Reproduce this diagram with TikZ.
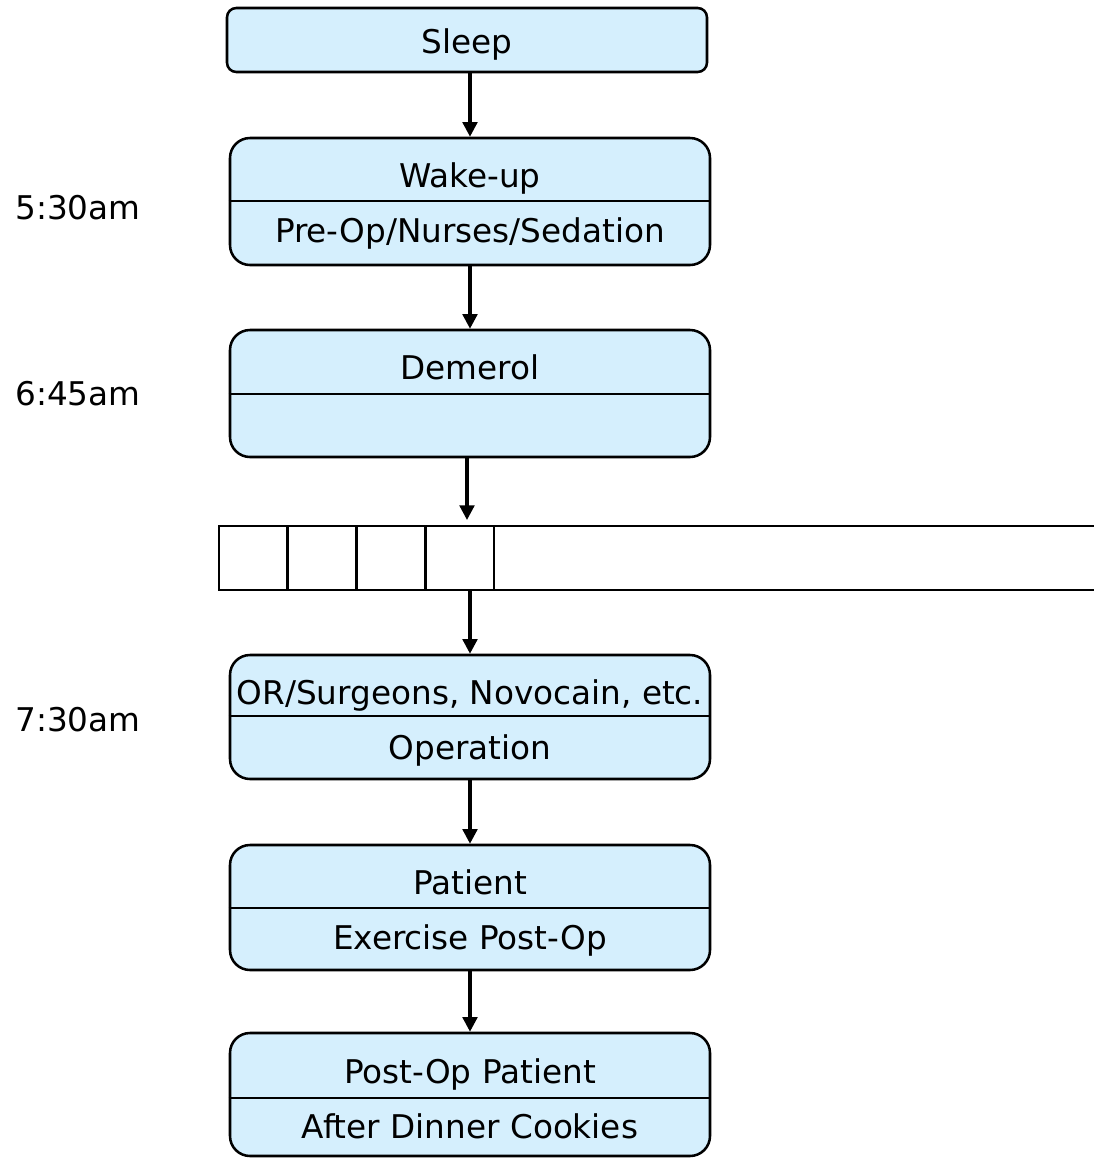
\documentclass[tikz,border=0pt]{standalone}
\usepackage{fontspec}
\setmainfont{DejaVu Sans}
\usetikzlibrary{arrows.meta}
\definecolor{stagefill}{RGB}{213,239,253}
\begin{document}
\begin{tikzpicture}[x=0.75pt,y=-0.75pt,
  stagebox/.style={draw, line width=1.9pt, fill=stagefill, rounded corners=15pt,
    minimum width=360pt, inner sep=0pt},
  cell/.style={draw, line width=1.9pt, minimum width=51.56pt, minimum height=48pt,
    inner sep=0pt, outer sep=0pt},
  lbl/.style={font=\fontsize{24.5}{28}\selectfont, inner sep=0pt, anchor=base},
  timelbl/.style={font=\fontsize{24.5}{28}\selectfont, inner sep=0pt, anchor=base west},
  flow/.style={line width=2.4pt, -{Triangle[length=11pt,width=11pt]}},
  divider/.style={line width=1.9pt}]
\useasboundingbox (0,0) rectangle (1094,1158);

% stages
\node[stagebox, rounded corners=7pt, minimum height=48pt] (sleep) at (467,40) {};
\node[lbl] (sleepT) at (467,53) {Sleep};

\node[stagebox, minimum height=95.25pt] (wake) at (470,201.5) {};
\draw[divider] (wake.west |- 0,201) -- (wake.east |- 0,201);
\node[lbl] (wakeA) at (470,187) {Wake-up};
\node[lbl] (wakeB) at (470,242) {Pre-Op/Nurses/Sedation};

\node[stagebox, minimum height=95.25pt] (demerol) at (470,393.5) {};
\draw[divider] (demerol.west |- 0,394) -- (demerol.east |- 0,394);
\node[lbl] (demerolA) at (470,379) {Demerol};

% queue
\node[cell] (q1) at (253.4,558) {};
\node[cell] (q2) at (322.1,558) {};
\node[cell] (q3) at (390.9,558) {};
\node[cell] (q4) at (459.6,558) {};
\coordinate (qendT) at (1100,526);
\coordinate (qendB) at (1100,590);
\draw[line width=1.9pt] (q4.north east) -- (qendT);
\draw[line width=1.9pt] (q4.south east) -- (qendB);

\node[stagebox, minimum height=93pt] (oper) at (470,717) {};
\draw[divider] (oper.west |- 0,716) -- (oper.east |- 0,716);
\node[lbl] (operA) at (470,704) {OR/Surgeons, Novocain, etc.};
\node[lbl] (operB) at (470,759) {Operation};

\node[stagebox, minimum height=93.75pt] (patient) at (470,907.5) {};
\draw[divider] (patient.west |- 0,908) -- (patient.east |- 0,908);
\node[lbl] (patientA) at (470,894) {Patient};
\node[lbl] (patientB) at (470,949) {Exercise Post-Op};

\node[stagebox, minimum height=92.25pt] (postop) at (470,1094.5) {};
\draw[divider] (postop.west |- 0,1098) -- (postop.east |- 0,1098);
\node[lbl] (postopA) at (470,1083) {Post-Op Patient};
\node[lbl] (postopB) at (470,1138) {After Dinner Cookies};

% times
\node[timelbl] (t1) at (15,219) {5:30am};
\node[timelbl] (t2) at (15,405) {6:45am};
\node[timelbl] (t3) at (15,731) {7:30am};

% connectors
\draw[flow] (wake.north |- sleep.south) -- (wake.north);
\draw[flow] (wake.south) -- (demerol.north);
\draw[flow] ([xshift=-2.25pt]demerol.south) -- ([xshift=-2.25pt,yshift=4.5pt]demerol.south |- q4.north);
\draw[flow] (oper.north |- q4.south) -- (oper.north);
\draw[flow] (oper.south) -- (patient.north);
\draw[flow] (patient.south) -- (postop.north);
\end{tikzpicture}
\end{document}
